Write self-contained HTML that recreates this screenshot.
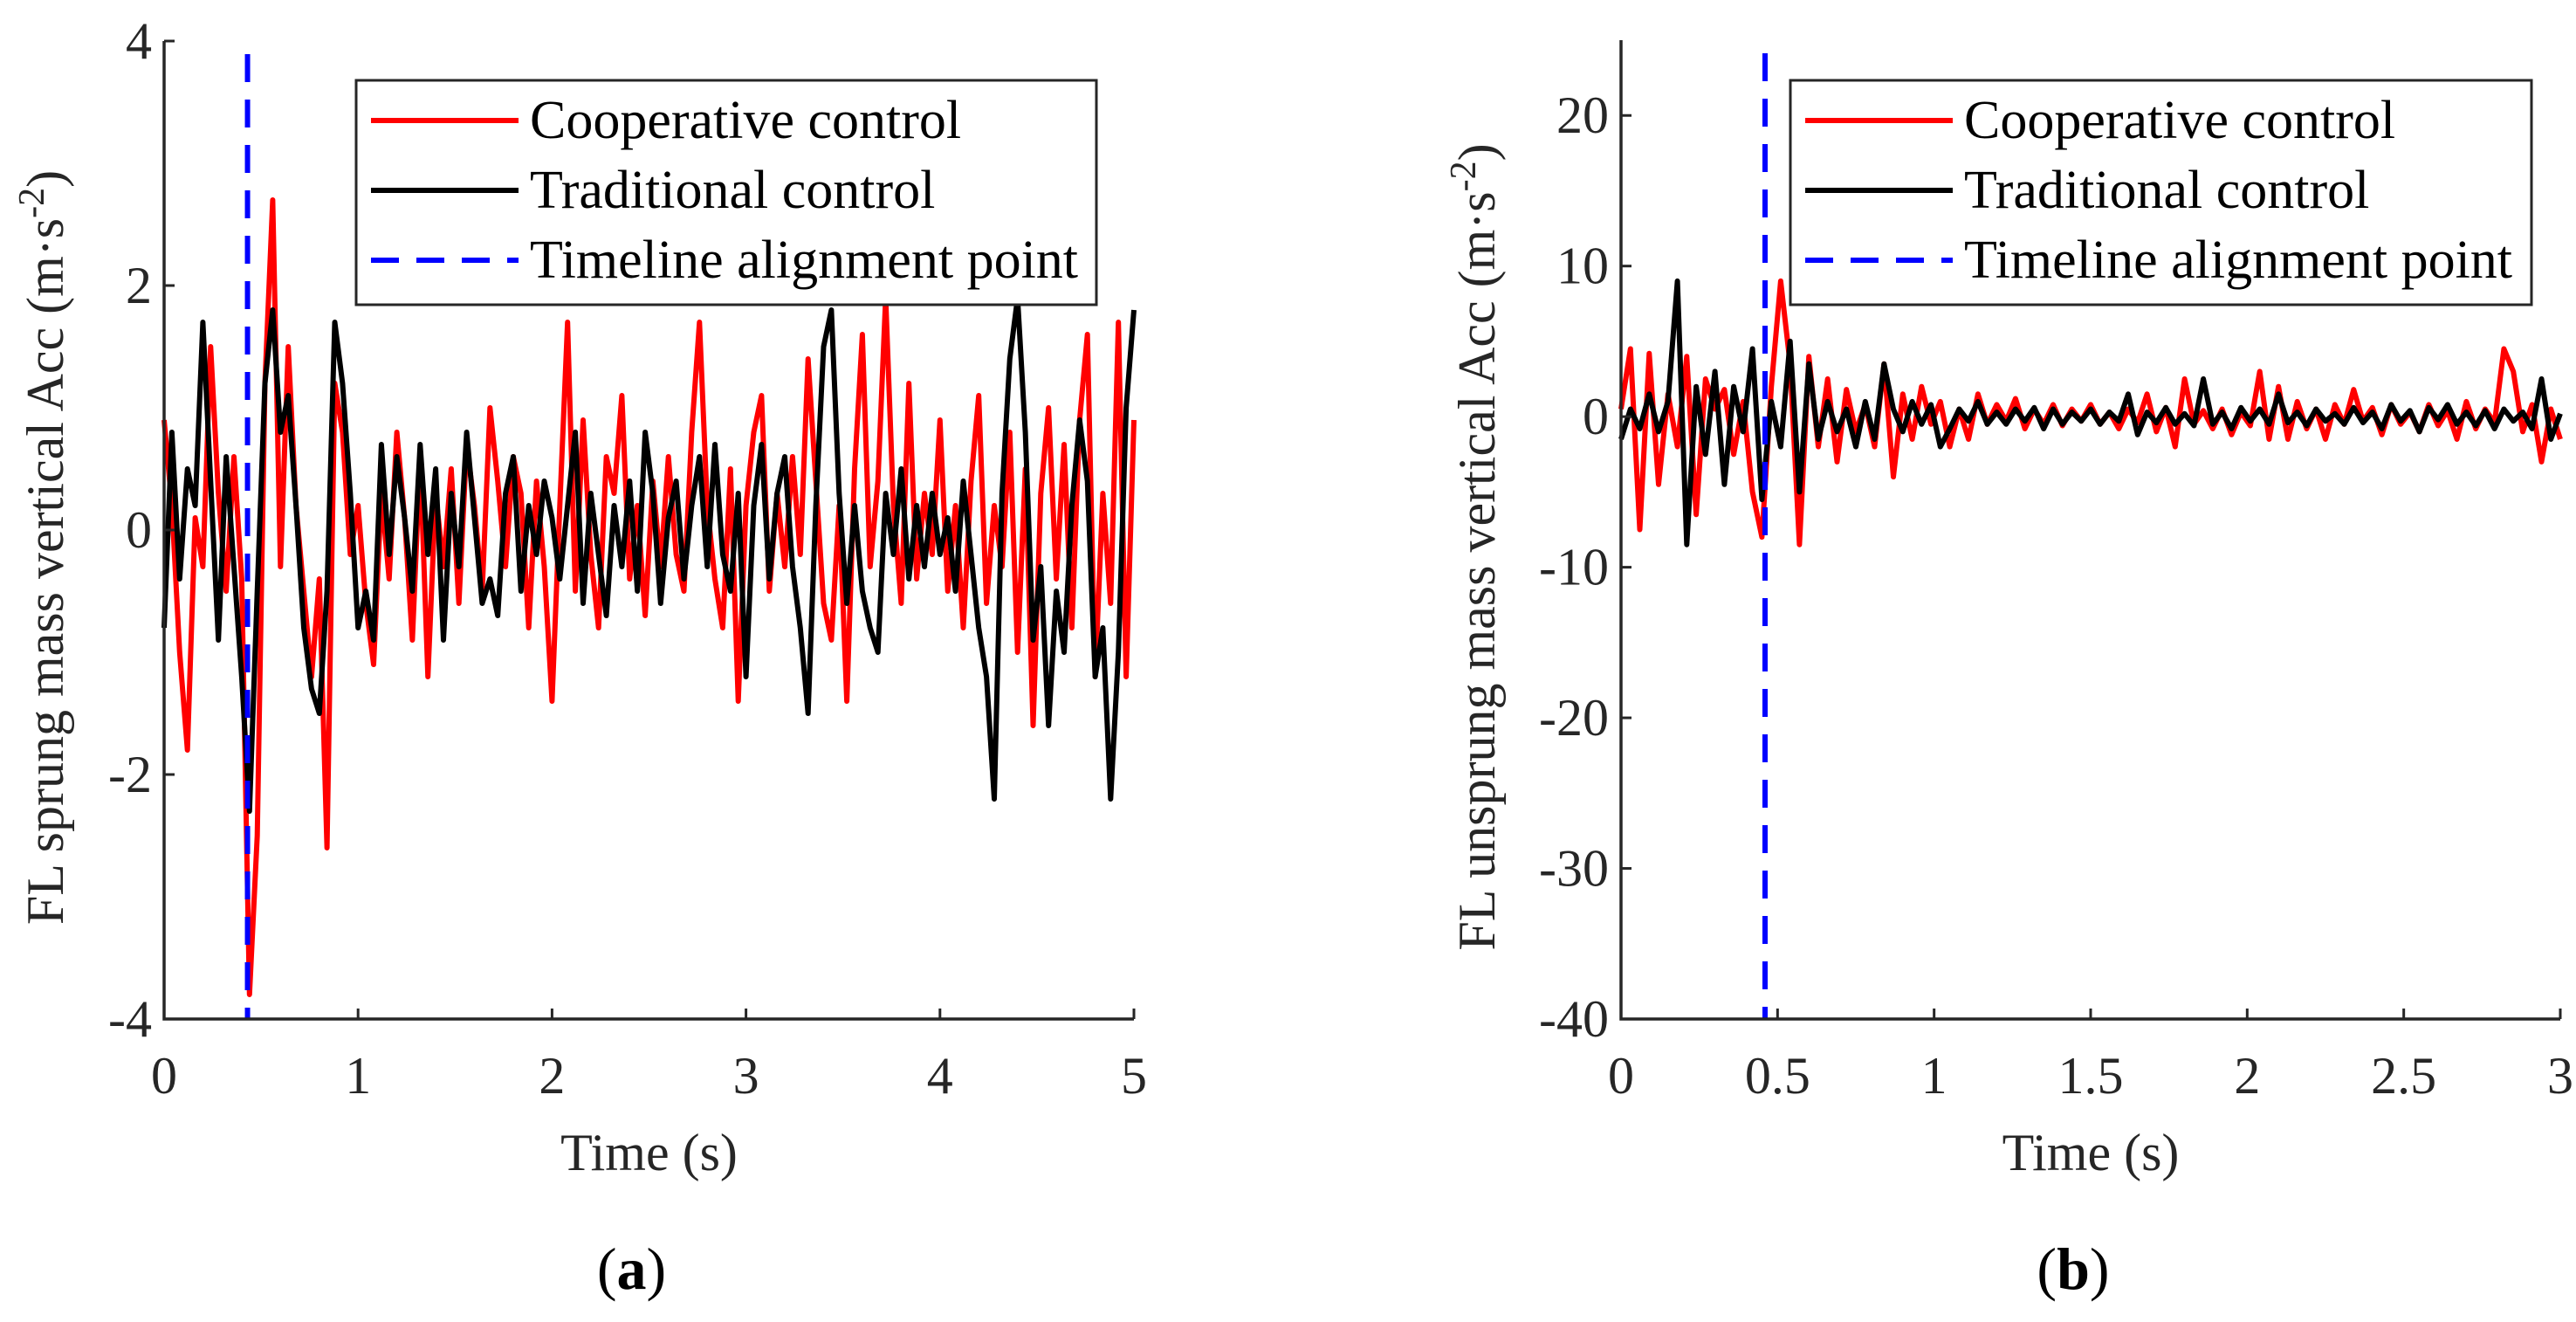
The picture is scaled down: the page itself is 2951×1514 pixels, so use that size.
<!DOCTYPE html>
<html><head><meta charset="utf-8"><style>
html,body{margin:0;padding:0;background:#fff;}
svg{display:block;font-family:"Liberation Serif",serif;}
</style></head><body>
<svg id="fig" width="2951" height="1514" viewBox="0 0 2951 1514">
<g id="pa"></g>
<g id="pb"></g>
</svg>
<script>
// Panel (a) data: time step 0.04 s
const aStep = 0.04;
const aCoop = [0.9,0.2,-1.0,-1.8,0.1,-0.3,1.5,0.3,-0.5,0.6,-0.4,-3.8,-2.5,1.2,2.7,-0.3,1.5,0.2,-0.5,-1.2,-0.4,-2.6,1.2,0.8,-0.2,0.2,-0.6,-1.1,0.3,-0.4,0.8,0.1,-0.9,0.6,-1.2,0.3,-0.3,0.5,-0.6,0.7,0.2,-0.5,1.0,0.4,-0.3,0.6,0.3,-0.8,0.4,-0.3,-1.4,0.2,1.7,-0.5,0.9,-0.2,-0.8,0.6,0.3,1.1,-0.4,0.2,-0.7,0.4,-0.3,0.6,-0.2,-0.5,0.8,1.7,0.2,-0.4,-0.8,0.5,-1.4,0.2,0.8,1.1,-0.5,0.3,-0.3,0.6,-0.2,1.4,0.4,-0.6,-0.9,0.2,-1.4,0.5,1.6,-0.3,0.4,1.9,0.2,-0.6,1.2,-0.4,0.3,-0.2,0.9,-0.5,0.2,-0.8,0.4,1.1,-0.6,0.2,-0.3,0.8,-1.0,0.5,-1.6,0.3,1.0,-0.4,0.7,-0.8,0.9,1.6,-1.2,0.3,-0.6,1.7,-1.2,0.9];
const aTrad = [-0.8,0.8,-0.4,0.5,0.2,1.7,0.4,-0.9,0.6,-0.3,-1.2,-2.3,-0.5,1.2,1.8,0.8,1.1,0.2,-0.8,-1.3,-1.5,-0.5,1.7,1.2,0.3,-0.8,-0.5,-0.9,0.7,-0.2,0.6,0.1,-0.5,0.7,-0.2,0.5,-0.9,0.3,-0.3,0.8,0.1,-0.6,-0.4,-0.7,0.3,0.6,-0.5,0.2,-0.2,0.4,0.1,-0.4,0.2,0.8,-0.6,0.3,-0.2,-0.7,0.2,-0.3,0.4,-0.5,0.8,0.3,-0.6,0.1,0.4,-0.4,0.2,0.6,-0.3,0.7,-0.2,-0.5,0.3,-1.2,0.2,0.7,-0.4,0.3,0.6,-0.3,-0.8,-1.5,0.2,1.5,1.8,0.3,-0.6,0.2,-0.5,-0.8,-1.0,0.3,-0.2,0.5,-0.4,0.2,-0.3,0.3,-0.2,0.1,-0.5,0.4,-0.2,-0.8,-1.2,-2.2,0.3,1.4,1.9,0.8,-0.9,-0.3,-1.6,-0.5,-1.0,0.2,0.9,0.4,-1.2,-0.8,-2.2,-1.0,1.0,1.8];
const aTicksX = [0,1,2,3,4,5];
const aTicksY = [-4,-2,0,2,4];
const aAlign = 0.43;

// Panel (b) data: time step 0.03 s
const bStep = 0.03;
const bCoop = [0.5,4.5,-7.5,4.2,-4.5,1.5,-2.0,4.0,-6.5,2.5,0.5,1.8,-2.5,1.0,-5.0,-8.0,2.0,9.0,3.5,-8.5,4.0,-2.0,2.5,-3.0,1.8,-1.0,0.8,-2.0,3.5,-4.0,1.5,-1.5,2.0,-0.5,1.0,-2.0,0.5,-1.5,1.5,-0.5,0.8,-0.3,1.2,-0.8,0.5,-0.5,0.8,-0.6,0.5,-0.3,0.8,-0.5,0.3,-0.8,0.5,-0.4,1.5,-1.0,0.6,-2.0,2.5,-0.5,0.4,-0.8,0.5,-1.2,0.3,-0.6,3.0,-1.5,2.0,-1.5,1.0,-0.8,0.5,-1.5,0.8,-0.5,1.8,-0.3,0.6,-1.2,0.8,-0.5,0.3,-1.0,0.8,-0.6,0.4,-1.5,1.0,-0.8,0.5,-0.4,4.5,3.0,-1.0,0.8,-3.0,0.5,-1.5];
const bTrad = [-1.5,0.5,-0.8,1.5,-1.0,1.0,9.0,-8.5,2.0,-2.5,3.0,-4.5,2.0,-1.0,4.5,-5.5,1.0,-2.0,5.0,-5.0,3.5,-1.5,1.0,-1.0,0.5,-2.0,1.0,-1.5,3.5,0.5,-1.0,1.0,-0.5,0.8,-2.0,-0.8,0.5,-0.3,1.0,-0.5,0.3,-0.5,0.5,-0.3,0.6,-0.8,0.5,-0.5,0.3,-0.3,0.5,-0.5,0.3,-0.3,1.5,-1.2,0.3,-0.4,0.6,-0.5,0.2,-0.6,2.5,-0.5,0.3,-0.8,0.6,-0.3,0.5,-0.5,1.5,-0.4,0.3,-0.6,0.5,-0.3,0.2,-0.5,0.6,-0.4,0.3,-0.8,0.8,-0.3,0.4,-1.0,0.6,-0.2,0.8,-0.5,0.3,-0.6,0.4,-0.8,0.5,-0.3,0.3,-0.8,2.5,-1.5,0.2];
const bTicksX = [0,0.5,1,1.5,2,2.5,3];
const bTicksY = [-40,-30,-20,-10,0,10,20];
const bAlign = 0.46;

const NS = "http://www.w3.org/2000/svg";
function mk(parent, tag, attrs, text){
  const e = document.createElementNS(NS, tag);
  for (const k in attrs) e.setAttribute(k, attrs[k]);
  if (text !== undefined) e.textContent = text;
  parent.appendChild(e);
  return e;
}
const TXT = "#262626";
const FS = 60;

function panel(g, cfg){
  const sx = t => cfg.x0 + (t - cfg.tmin) / (cfg.tmax - cfg.tmin) * (cfg.x1 - cfg.x0);
  const sy = v => cfg.y0 + (cfg.vmax - v) / (cfg.vmax - cfg.vmin) * (cfg.y1 - cfg.y0);
  [[cfg.coop, "#ff0000", "series-cooperative"], [cfg.trad, "#000000", "series-traditional"]].forEach(([arr, col, nm]) => {
    const d = arr.map((v, i) => (i ? "L" : "M") + sx(Math.min(i * cfg.step, cfg.tmax)).toFixed(1) + " " + sy(v).toFixed(1)).join(" ");
    const p = mk(g, "path", {d: d, fill: "none", stroke: col, "stroke-width": 6, "stroke-linejoin": "round"});
    
    
  });
  const al = mk(g, "line", {x1: sx(cfg.align), x2: sx(cfg.align), y1: cfg.y0 + 15, y2: cfg.y1, stroke: "#0000ff", "stroke-width": 6, "stroke-dasharray": "32 20"});
  
  
  const ax = mk(g, "path", {d: `M${cfg.x0} ${cfg.y0} V${cfg.y1} H${cfg.x1}`, fill: "none", stroke: TXT, "stroke-width": 3.5});
  
  
  cfg.ticksX.forEach(t => {
    const x = sx(t);
    mk(g, "line", {x1: x, x2: x, y1: cfg.y1, y2: cfg.y1 - 12, stroke: TXT, "stroke-width": 3});
    const l = mk(g, "text", {x: x, y: cfg.y1 + 85, "text-anchor": "middle", "font-size": FS, fill: TXT}, String(t));
    
    
  });
  cfg.ticksY.forEach(v => {
    const y = sy(v);
    mk(g, "line", {x1: cfg.x0, x2: cfg.x0 + 12, y1: y, y2: y, stroke: TXT, "stroke-width": 3});
    const l = mk(g, "text", {x: cfg.x0 - 14, y: y + 20, "text-anchor": "end", "font-size": FS, fill: TXT}, String(v));
    
    
  });
  const xt = mk(g, "text", {x: (cfg.x0 + cfg.x1) / 2, y: 1340, "text-anchor": "middle", "font-size": FS, fill: TXT}, "Time (s)");
  
  
  const yt = mk(g, "text", {transform: `translate(${cfg.ylx},${(cfg.y0 + cfg.y1) / 2 + 20}) rotate(-90)`, "text-anchor": "middle", "font-size": FS, fill: TXT});
  yt.innerHTML = cfg.ylabel + ' (m·s<tspan dy="-22" font-size="42">-2</tspan><tspan dy="22">)</tspan>';
  
  
  const cap = mk(g, "text", {x: (cfg.x0 + cfg.x1) / 2 - 20, y: 1476, "text-anchor": "middle", "font-size": 68, fill: "#000"});
  cap.innerHTML = '(<tspan font-weight="bold">' + cfg.cap + '</tspan>)';
  
  
  const lg = mk(g, "g", {});
  
  
  mk(lg, "rect", {x: cfg.lx, y: 92, width: cfg.lw, height: 257, fill: "#fff", stroke: TXT, "stroke-width": 3});
  [["Cooperative control", "#ff0000", null], ["Traditional control", "#000000", null], ["Timeline alignment point", "#0000ff", "32 20"]].forEach((it, i) => {
    const y = 138 + i * 80;
    const e = mk(lg, "g", {});
    
    
    const a = {x1: cfg.lx + 17, x2: cfg.lx + 186, y1: y, y2: y, stroke: it[1], "stroke-width": 6};
    if (it[2]) a["stroke-dasharray"] = it[2];
    mk(e, "line", a);
    mk(e, "text", {x: cfg.lx + 199, y: y + 20, "font-size": 62, fill: "#000"}, it[0]);
  });
}

panel(document.getElementById("pa"), {x0: 188, x1: 1299, y0: 47, y1: 1167, tmin: 0, tmax: 5, vmin: -4, vmax: 4,
  step: aStep, coop: aCoop, trad: aTrad, ticksX: aTicksX, ticksY: aTicksY, align: aAlign,
  ylx: 72, ylabel: "FL sprung mass vertical Acc", cap: "a", lx: 408, lw: 848});
panel(document.getElementById("pb"), {x0: 1857, x1: 2933, y0: 46, y1: 1167, tmin: 0, tmax: 3, vmin: -40, vmax: 25,
  step: bStep, coop: bCoop, trad: bTrad, ticksX: bTicksX, ticksY: bTicksY, align: bAlign,
  ylx: 1712, ylabel: "FL unsprung mass vertical Acc", cap: "b", lx: 2051, lw: 849});
</script>
</body></html>
